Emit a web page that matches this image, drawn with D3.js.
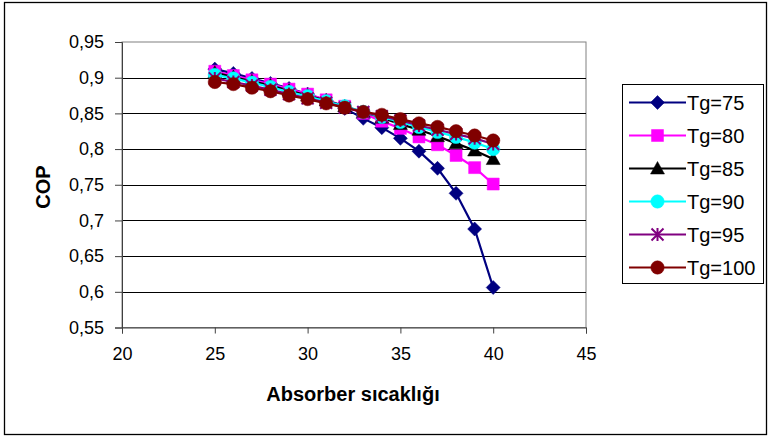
<!DOCTYPE html>
<html>
<head>
<meta charset="utf-8">
<script src="https://cdn.jsdelivr.net/npm/d3@7"></script>
<style>
  html, body { margin: 0; padding: 0; background: #fff; }
  svg { display: block; font-family: Arial, "Liberation Sans", sans-serif; }
</style>
</head>
<body>
<svg id="chart" width="771" height="438"></svg>
<script>
// ---- data ----
const temps = [25, 26, 27, 28, 29, 30, 31, 32, 33, 34, 35, 36, 37, 38, 39, 40];
const tg75  = [0.912, 0.906, 0.899, 0.892, 0.885, 0.877, 0.868, 0.857, 0.843, 0.830, 0.815, 0.797, 0.773, 0.738, 0.688, 0.606];
const tg80  = [0.909, 0.903, 0.897, 0.891, 0.884, 0.877, 0.869, 0.860, 0.850, 0.839, 0.829, 0.817, 0.806, 0.791, 0.774, 0.751];
const tg85  = [0.907, 0.901, 0.895, 0.889, 0.882, 0.875, 0.868, 0.860, 0.852, 0.844, 0.835, 0.827, 0.818, 0.808, 0.798, 0.786];
const tg90  = [0.904, 0.899, 0.893, 0.887, 0.880, 0.874, 0.867, 0.860, 0.852, 0.845, 0.838, 0.831, 0.824, 0.817, 0.809, 0.800];
const tg95  = [0.899, 0.894, 0.889, 0.883, 0.877, 0.871, 0.865, 0.858, 0.852, 0.846, 0.840, 0.833, 0.827, 0.821, 0.815, 0.807];
const tg100 = [0.894, 0.891, 0.886, 0.881, 0.875, 0.870, 0.864, 0.858, 0.852, 0.848, 0.842, 0.836, 0.831, 0.825, 0.819, 0.812];
const seriesNames = ["Tg=75", "Tg=80", "Tg=85", "Tg=90", "Tg=95", "Tg=100"];
const xTicks = [20, 25, 30, 35, 40, 45];
const yTicks = [0.55, 0.6, 0.65, 0.7, 0.75, 0.8, 0.85, 0.9, 0.95];
const xTitle = "Absorber sıcaklığı";
const yTitle = "COP";

// ---- styling ----
const colors = ["#000080", "#FF00FF", "#000000", "#00FFFF", "#800080", "#800000"];
const markers = ["diamond", "square", "triangle", "circle", "star", "circle"];
const allValues = [tg75, tg80, tg85, tg90, tg95, tg100];
const series = seriesNames.map((name, i) => ({
  name, color: colors[i], marker: markers[i],
  points: temps.map((t, j) => ({ x: t, y: allValues[i][j] }))
}));

const svg = d3.select("#chart");
const pLeft = 122, pRight = 586, pTop = 42, pBottom = 327.5;
const x = d3.scaleLinear().domain([20, 45]).range([pLeft, pRight]);
const y = d3.scaleLinear().domain([0.55, 0.95]).range([pBottom, pTop]);

// outer frame
svg.append("rect").attr("x", 4.5).attr("y", 2.5).attr("width", 762).attr("height", 432)
  .attr("fill", "#fff").attr("stroke", "#000").attr("stroke-width", 1.3);

// plot area border (top/right gray)
svg.append("rect").attr("x", pLeft).attr("y", pTop).attr("width", pRight - pLeft).attr("height", pBottom - pTop)
  .attr("fill", "#fff").attr("stroke", "#808080").attr("stroke-width", 1);

// gridlines
svg.append("g").selectAll("line").data(yTicks.filter(v => v > 0.56 && v < 0.94)).join("line")
  .attr("x1", pLeft).attr("x2", pRight)
  .attr("y1", d => Math.round(y(d)) + 0.5).attr("y2", d => Math.round(y(d)) + 0.5)
  .attr("stroke", "#000").attr("stroke-width", 1);

const fmt = d => String(d).replace(".", ",");

// y axis
const yAxis = svg.append("g").attr("transform", `translate(${pLeft},0)`)
  .call(d3.axisLeft(y).tickValues(yTicks).tickFormat(fmt).tickSize(7).tickPadding(11));
yAxis.select(".domain").attr("stroke", "#404040");
yAxis.selectAll(".tick line").attr("stroke", "#404040");
yAxis.selectAll("text").attr("font-size", 18).attr("fill", "#000")
  .attr("font-family", "Arial, 'Liberation Sans', sans-serif");

// x axis
const xAxis = svg.append("g").attr("transform", `translate(0,${pBottom})`)
  .call(d3.axisBottom(x).tickValues(xTicks).tickFormat(d => d).tickSize(6).tickPadding(14));
xAxis.select(".domain").attr("stroke", "#404040");
xAxis.selectAll(".tick line").attr("stroke", "#404040");
xAxis.selectAll("text").attr("font-size", 18).attr("fill", "#000")
  .attr("font-family", "Arial, 'Liberation Sans', sans-serif");

// axis titles
svg.append("text").attr("x", 353).attr("y", 401).attr("text-anchor", "middle")
  .attr("font-size", 20).attr("font-weight", "bold").text(xTitle);
svg.append("text").attr("transform", "translate(50,187) rotate(-90)").attr("text-anchor", "middle")
  .attr("font-size", 20).attr("font-weight", "bold").text(yTitle);

// marker generator
function markerPath(type) {
  switch (type) {
    case "diamond": return "M0,-7L7,0L0,7L-7,0Z";
    case "square": return "M-6,-6H6V6H-6Z";
    case "triangle": return "M0,-7L7,5.5L-7,5.5Z";
    case "circle": return d3.symbol(d3.symbolCircle, 140)();
    case "star": return "M0,-6.5V6.5M-6,-6L6,6M-6,6L6,-6";
  }
}
function drawMarker(g, type, color, cx, cy) {
  const p = g.append("path").attr("d", markerPath(type)).attr("transform", `translate(${cx},${cy})`);
  if (type === "star") p.attr("fill", "none").attr("stroke", color).attr("stroke-width", 2);
  else p.attr("fill", color).attr("stroke", color).attr("stroke-width", 0.5);
}

const line = d3.line().x(d => x(d.x)).y(d => y(d.y));
const plot = svg.append("g");
series.forEach(s => {
  const g = plot.append("g");
  g.append("path").datum(s.points).attr("d", line).attr("fill", "none")
    .attr("stroke", s.color).attr("stroke-width", 2.2);
  s.points.forEach(p => drawMarker(g, s.marker, s.color, x(p.x), y(p.y)));
});

// legend
const lg = svg.append("g");
lg.append("rect").attr("x", 622.5).attr("y", 84.5).attr("width", 141).attr("height", 199)
  .attr("fill", "#fff").attr("stroke", "#000").attr("stroke-width", 1);
series.forEach((s, i) => {
  const cy = 102.5 + i * 33;
  lg.append("line").attr("x1", 629).attr("x2", 686).attr("y1", cy).attr("y2", cy)
    .attr("stroke", s.color).attr("stroke-width", 2.2);
  drawMarker(lg, s.marker, s.color, 657.5, cy);
  lg.append("text").attr("x", 687).attr("y", cy + 7).attr("font-size", 20).attr("fill", "#000")
    .text(s.name);
});
</script>
</body>
</html>
